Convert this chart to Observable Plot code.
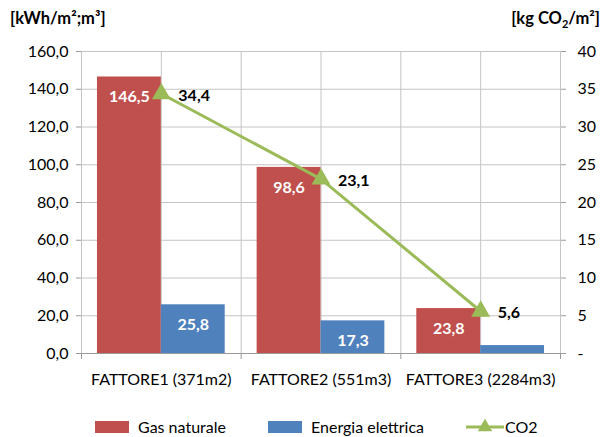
<!DOCTYPE html>
<html>
<head>
<meta charset="utf-8">
<script src="https://cdn.jsdelivr.net/npm/d3@7"></script>
<script src="https://cdn.jsdelivr.net/npm/@observablehq/plot@0.6"></script>
<style>
  body { margin: 0; background: #fff; font-family: Lato, "Open Sans", sans-serif; }
  #wrap { position: relative; width: 602px; height: 437px; overflow: hidden; }
  .title { position: absolute; top: 8px; font-weight: 700; font-size: 16.5px; color: #000; white-space: nowrap; }
  .legend { position: absolute; top: 417px; left: 0; width: 602px; height: 20px; font-size: 16px; color: #000; }
  .item { position: absolute; top: 0; display: flex; align-items: center; white-space: nowrap; height: 19px; }
  .swatch { width: 34px; height: 12px; margin-right: 9px; }
</style>
</head>
<body>
<div id="wrap">
  <div class="title" style="left:10px">[kWh/m²;m³]</div>
  <div class="title" style="right:2px">[kg CO<sub style="font-size:11px">2</sub>/m²]</div>
  <div id="chart"></div>
  <div class="legend" id="legend"></div>
</div>
<script>
// Categories and series
const categories = ["FATTORE1 (371m2)", "FATTORE2 (551m3)", "FATTORE3 (2284m3)"];
const gasNaturale = [146.5, 98.6, 23.8];          // kWh/m²;m³
const energiaElettrica = [25.8, 17.3, 4.2];       // kWh/m²;m³
const co2 = [34.4, 23.1, 5.6];                    // kg CO2/m²
const leftTicks = [0, 20, 40, 60, 80, 100, 120, 140, 160];
const rightTicks = [0, 5, 10, 15, 20, 25, 30, 35, 40];

const colors = { gas: "#C0504D", elec: "#4F81BD", co2: "#9BBB59" };
const leftMax = 160, rightMax = 40;
const ratio = leftMax / rightMax; // secondary axis shares the same pixel span

const rows = categories.map((c, i) => ({
  i, cat: c, gas: gasNaturale[i], elec: energiaElettrica[i], co2: co2[i]
}));

const fmt1 = d => d.toFixed(1).replace(".", ",");
const font = "Lato, 'Open Sans', sans-serif";

const chart = Plot.plot({
  width: 602,
  height: 437,
  marginLeft: 81,
  marginRight: 42,
  marginTop: 51,
  marginBottom: 84,
  style: { fontFamily: font, fontSize: "16px", color: "#000", background: "transparent" },
  x: { domain: [0, categories.length], axis: null },
  y: { domain: [0, leftMax], axis: null },
  marks: [
    // horizontal gridlines
    Plot.ruleY(leftTicks.slice(1), { stroke: "#c4c4c4", strokeWidth: 1 }),
    // vertical gridlines every half category
    Plot.ruleX(d3.range(0, categories.length + 0.01, 0.5), { stroke: "#c4c4c4", strokeWidth: 1 }),
    // bars
    Plot.rectY(rows, { x1: d => d.i + 0.1, x2: d => d.i + 0.5, y: "gas", fill: colors.gas }),
    Plot.rectY(rows, { x1: d => d.i + 0.5, x2: d => d.i + 0.9, y: "elec", fill: colors.elec }),
    // baseline
    Plot.ruleY([0], { stroke: "#9a9a9a", strokeWidth: 1 }),
    // left axis
    Plot.axisY({ anchor: "left", ticks: leftTicks, tickFormat: fmt1, tickSize: 5, tickPadding: 8,
      stroke: "#9a9a9a", fontSize: 16, fill: "#000" }),
    // right (secondary) axis for CO2
    Plot.axisY({ anchor: "right", ticks: rightTicks.map(v => v * ratio),
      tickFormat: d => d === 0 ? "-" : String(d / ratio), tickSize: 5, tickPadding: 12,
      stroke: "#9a9a9a", fontSize: 16, fill: "#000", textAnchor: "start" }),
    // category tick marks at boundaries
    Plot.axisX({ ticks: d3.range(0, categories.length + 1), tickFormat: () => "", tickSize: 6,
      stroke: "#9a9a9a" }),
    // category labels
    Plot.axisX({ ticks: categories.map((c, i) => i + 0.5), tickFormat: (d) => categories[Math.floor(d)],
      tickSize: 0, tickPadding: 20, fontSize: 16, fill: "#000" }),
    // bar value labels
    Plot.text(rows, { x: d => d.i + 0.3, y: "gas", text: d => fmt1(d.gas), dy: 20,
      fill: "#fff", fontWeight: "bold", fontSize: 16 }),
    Plot.text(rows.filter(d => d.elec >= 10), { x: d => d.i + 0.7, y: "elec", text: d => fmt1(d.elec), dy: 20,
      fill: "#fff", fontWeight: "bold", fontSize: 16 }),
    // CO2 line on the secondary scale
    Plot.line(rows, { x: d => d.i + 0.5, y: d => d.co2 * ratio, stroke: colors.co2, strokeWidth: 3 }),
    Plot.dot(rows, { x: d => d.i + 0.5, y: d => d.co2 * ratio, symbol: "triangle", r: 7, fill: colors.co2 }),
    Plot.text(rows, { x: d => d.i + 0.5, y: d => d.co2 * ratio, text: d => fmt1(d.co2), dx: 17, dy: 2,
      textAnchor: "start", fill: "#000", fontWeight: "bold", fontSize: 16 })
  ]
});
chart.style.position = "absolute";
chart.style.left = "0";
chart.style.top = "0";
document.getElementById("chart").appendChild(chart);

// legend
const legend = document.getElementById("legend");
const items = [
  { label: "Gas naturale", left: 95, kind: "rect", color: colors.gas },
  { label: "Energia elettrica", left: 268, kind: "rect", color: colors.elec },
  { label: "CO2", left: 466, kind: "line", color: colors.co2 }
];
for (const it of items) {
  const el = document.createElement("div");
  el.className = "item";
  el.style.left = it.left + "px";
  if (it.kind === "rect") {
    const sw = document.createElement("div");
    sw.className = "swatch";
    sw.style.background = it.color;
    el.appendChild(sw);
  } else {
    const ns = "http://www.w3.org/2000/svg";
    const s = document.createElementNS(ns, "svg");
    s.setAttribute("width", 38); s.setAttribute("height", 16);
    s.style.marginRight = "1px";
    const l = document.createElementNS(ns, "line");
    l.setAttribute("x1", 0); l.setAttribute("x2", 38); l.setAttribute("y1", 8); l.setAttribute("y2", 8);
    l.setAttribute("stroke", it.color); l.setAttribute("stroke-width", 3);
    const t = document.createElementNS(ns, "path");
    t.setAttribute("d", d3.symbol(d3.symbolTriangle, 90)());
    t.setAttribute("transform", "translate(19,8)");
    t.setAttribute("fill", it.color);
    s.appendChild(l); s.appendChild(t);
    el.appendChild(s);
  }
  const tx = document.createElement("span");
  tx.textContent = it.label;
  el.appendChild(tx);
  legend.appendChild(el);
}
</script>
</body>
</html>
